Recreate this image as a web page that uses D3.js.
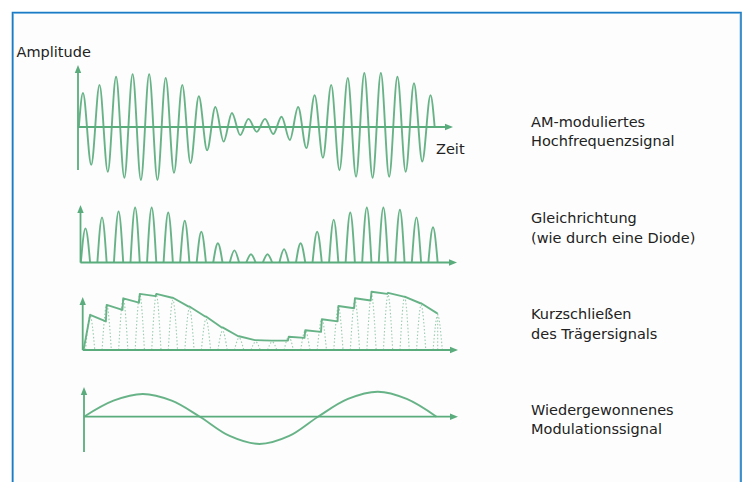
<!DOCTYPE html>
<html><head><meta charset="utf-8">
<script src="https://cdn.jsdelivr.net/npm/d3@7"></script>
<style>html,body{margin:0;padding:0;background:#fff;} svg{display:block;}</style>
</head><body>
<svg id="c" width="743" height="482"></svg>
<script>
// ---- data (amplitudes relative to each panel's full scale) ----
// carrier cycle index k: peak of cycle k, trough after it
const carrierPeaks   = [0.63,0.78,0.93,0.98,0.98,0.91,0.78,0.57,0.37,0.26,0.15,0.15,0.19,0.37,0.59,0.78,0.91,1.00,1.00,0.93,0.81,0.59];
const carrierTroughs = [0.70,0.83,0.94,0.98,0.98,0.85,0.67,0.43,0.27,0.15,0.09,0.13,0.24,0.39,0.57,0.80,0.92,0.94,0.92,0.83,0.64];
const rectifiedPeaks = [0.62,0.82,0.93,1.00,1.00,0.91,0.76,0.56,0.35,0.22,0.15,0.15,0.24,0.35,0.56,0.78,0.91,1.00,1.00,0.96,0.82,0.64];
// envelope detector: value just before and just after each charging instant
const detectorLow  = [null,0.52,0.73,0.86,0.98,0.95,0.79,0.61,0.41,0.25,0.18,0.17,0.17,0.22,0.33,0.52,0.76,0.90,1.02,0.97,0.85,0.67];
const detectorHigh = [0.64,0.82,0.94,1.02,1.02,0.95,0.79,0.61,0.41,0.25,0.18,0.17,0.24,0.36,0.56,0.80,0.94,1.06,1.04,0.97,0.85,0.67];
// recovered modulation signal (time in carrier cycles, value)
const recoveredT = [0,1.78,3.56,5.3,7.0,8.8,10.6,12.4,14.14,15.95,17.76,19.5,21.3];
const recoveredV = [0,0.64,0.91,0.64,0,-0.77,-1.09,-0.77,0,0.71,1.0,0.71,0];
const panelLabels = [
  ["AM-moduliertes","Hochfrequenzsignal"],
  ["Gleichrichtung","(wie durch eine Diode)"],
  ["Kurzschließen","des Trägersignals"],
  ["Wiedergewonnenes","Modulationssignal"]
];
const yTitle = "Amplitude";
const xTitle = "Zeit";

// ---- layout ----
const W = 743, H = 482;
const green = "#5aac7d";
const textColor = "#222";
const font = "'DejaVu Sans', sans-serif";
const cyclePx = 16.55;
const panels = [
  {x0:78,   x1:453, base:127,   top:65,  bottom:170,   unit:54, ly:126.7},
  {x0:80.5, x1:457, base:262.5, top:205, bottom:262.5, unit:55, ly:223.3},
  {x0:82.7, x1:458, base:350,   top:297, bottom:350,   unit:55, ly:319.3},
  {x0:84,   x1:458, base:416.7, top:387, bottom:452,   unit:25, ly:414.8}
];

const svg = d3.select("#c");
svg.append("rect").attr("x",0).attr("y",0).attr("width",W).attr("height",H).attr("fill","#fff");
// frame (open at the bottom)
svg.append("rect").attr("x",13.5).attr("y",13.5).attr("width",726.5).attr("height",500)
  .attr("fill","#fdfdfd").attr("stroke","#9cc8ea").attr("stroke-width",1);
svg.append("path").attr("d","M12.5,490 V12.5 H741 V490")
  .attr("fill","none").attr("stroke","#1b7bc4").attr("stroke-width",1.6);

function scales(p){
  const x = d3.scaleLinear().domain([0,22]).range([p.x0, p.x0 + 22*cyclePx]);
  const y = d3.scaleLinear().domain([-1,1]).range([p.base + p.unit, p.base - p.unit]);
  return {x,y};
}
function axes(g,p){
  g.append("line").attr("x1",p.x0).attr("x2",p.x1-5).attr("y1",p.base).attr("y2",p.base)
    .attr("stroke",green).attr("stroke-width",1.8);
  g.append("line").attr("x1",p.x0).attr("x2",p.x0).attr("y1",p.top+5).attr("y2",p.bottom)
    .attr("stroke",green).attr("stroke-width",1.8);
  g.append("path").attr("d",`M${p.x1},${p.base} L${p.x1-8},${p.base-3.2} L${p.x1-8},${p.base+3.2} Z`).attr("fill",green);
  g.append("path").attr("d",`M${p.x0},${p.top} L${p.x0-3.2},${p.top+8} L${p.x0+3.2},${p.top+8} Z`).attr("fill",green);
}
const wave = (g,d) => g.append("path").attr("d",d).attr("fill","none")
  .attr("stroke",green).attr("stroke-width",1.9).attr("stroke-linejoin","round").attr("stroke-opacity",0.92);

// Panel 1: AM signal
{
  const p = panels[0], {x,y} = scales(p), g = svg.append("g");
  axes(g,p);
  const pts = [[0.05,0]];
  carrierPeaks.forEach((v,k)=>{
    pts.push([k+0.3, v]);
    if (k < carrierTroughs.length) pts.push([k+0.8, -carrierTroughs[k]]);
  });
  pts.push([carrierPeaks.length-1+0.55, 0]);
  wave(g, d3.line().x(d=>x(d[0])).y(d=>y(d[1])).curve(d3.curveMonotoneX)(pts));
}
// Panel 2: rectified (arch-shaped half waves)
{
  const p = panels[1], {x,y} = scales(p), g = svg.append("g");
  axes(g,p);
  const arch = d3.line().x(d=>x(d[0])).y(d=>y(d[1])).curve(d3.curveNatural);
  rectifiedPeaks.forEach((v,k)=>{
    wave(g, arch([[k+0.02,0],[k+0.3,v],[k+0.58,0]]));
  });
}
// Panel 3: envelope detector
{
  const p = panels[2], {x,y} = scales(p), g = svg.append("g");
  axes(g,p);
  const arch = d3.line().x(d=>x(d[0])).y(d=>y(d[1])).curve(d3.curveNatural);
  rectifiedPeaks.forEach((v,k)=>{
    g.append("path").attr("d",arch([[k+0.17,0],[k+0.45,v],[k+0.73,0]]))
      .attr("fill","none").attr("stroke",green).attr("stroke-width",1.1)
      .attr("stroke-dasharray","1.5,2").attr("stroke-opacity",0.6);
  });
  const pts = [[0.05,0]];
  detectorHigh.forEach((v,k)=>{
    if (detectorLow[k] !== null) pts.push([k+0.4, detectorLow[k]]);
    pts.push([k+0.45, v]);
  });
  wave(g, d3.line().x(d=>x(d[0])).y(d=>y(d[1]))(pts));
  const last = detectorHigh.length-1;
  g.append("line").attr("x1",x(last+0.45)).attr("x2",x(last+0.45))
    .attr("y1",y(detectorHigh[last])).attr("y2",y(0))
    .attr("stroke",green).attr("stroke-width",1.1).attr("stroke-dasharray","1.5,2").attr("stroke-opacity",0.6);
}
// Panel 4: recovered signal
{
  const p = panels[3], {x,y} = scales(p), g = svg.append("g");
  axes(g,p);
  const pts = recoveredT.map((t,i)=>[t, recoveredV[i]]);
  wave(g, d3.line().x(d=>x(d[0])).y(d=>y(d[1])).curve(d3.curveCatmullRom)(pts));
}

// texts
svg.append("text").attr("x",16.5).attr("y",56.7).attr("font-family",font).attr("font-size",14.5)
  .attr("fill",textColor).text(yTitle);
svg.append("text").attr("x",436).attr("y",154).attr("font-family",font).attr("font-size",14.5)
  .attr("fill",textColor).text(xTitle);
panelLabels.forEach((lines,i)=>{
  const t = svg.append("text").attr("font-family",font).attr("font-size",14.5).attr("fill",textColor);
  lines.forEach((s,j)=>t.append("tspan").attr("x",531).attr("y",panels[i].ly + j*19.3).text(s));
});
</script>
</body></html>
